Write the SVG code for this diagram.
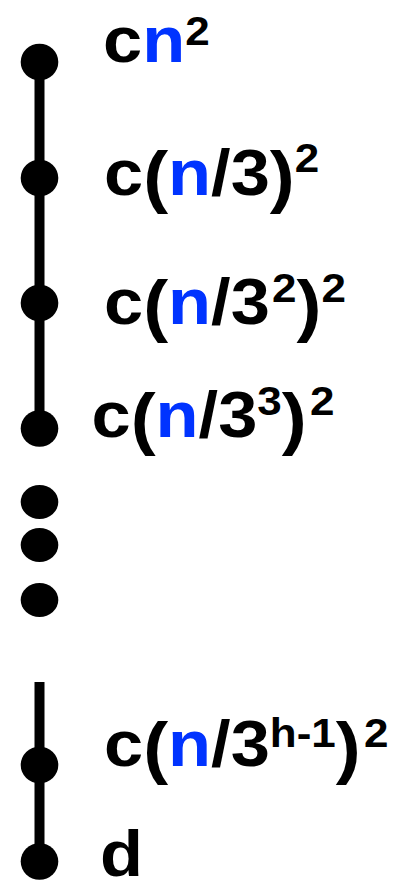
<svg xmlns="http://www.w3.org/2000/svg" width="407" height="882" viewBox="0 0 407 882">
<style>
.lbl{font-family:"Liberation Sans",Arial,sans-serif;font-weight:bold;fill:#000;font-size:64px}
.b{fill:#0033ff}
.p{font-size:68px}
.s{font-size:40px}
.dot{fill:#000}
.edge{stroke:#000;stroke-width:10;fill:none}
</style>
<rect width="407" height="882" fill="#fff"/>
<g id="connectors">
<line class="edge" x1="39.5" y1="62" x2="39.5" y2="428.5"/>
<line class="edge" x1="39.5" y1="682" x2="39.5" y2="861.5"/>
</g>
<g id="node1">
<ellipse class="dot" cx="39.5" cy="62" rx="18.8" ry="18.3"/>
<text class="lbl" transform="translate(103,62) scale(1.1,1)">c<tspan class="b">n</tspan><tspan class="s" dy="-17">2</tspan></text>
</g>
<g id="node2">
<ellipse class="dot" cx="39.5" cy="178" rx="18.8" ry="18.3"/>
<text class="lbl" transform="translate(104,195) scale(1.1,1)">c<tspan class="p" dy="5">(</tspan><tspan class="b" dy="-5">n</tspan>/3<tspan class="p" dy="5">)</tspan><tspan class="s" dy="-28">2</tspan></text>
</g>
<g id="node3">
<ellipse class="dot" cx="39.5" cy="303" rx="18.8" ry="18.3"/>
<text class="lbl" transform="translate(104,324) scale(1.1,1)">c<tspan class="p" dy="5">(</tspan><tspan class="b" dy="-5">n</tspan>/3<tspan class="s" dx="2" dy="-22">2</tspan><tspan class="p" dy="27">)</tspan><tspan class="s" dy="-27">2</tspan></text>
</g>
<g id="node4">
<ellipse class="dot" cx="39.5" cy="428.5" rx="18.8" ry="18.3"/>
<text class="lbl" transform="translate(91.5,437) scale(1.1,1)">c<tspan class="p" dy="5">(</tspan><tspan class="b" dy="-5">n</tspan>/3<tspan class="s" dy="-22">3</tspan><tspan class="p" dy="27">)</tspan><tspan class="s" dx="3" dy="-27">2</tspan></text>
</g>
<g id="ellipsis">
<ellipse class="dot" cx="39.5" cy="502" rx="18.8" ry="17"/>
<ellipse class="dot" cx="39.5" cy="545" rx="18.8" ry="17"/>
<ellipse class="dot" cx="39.5" cy="600" rx="18.8" ry="17"/>
</g>
<g id="node5">
<ellipse class="dot" cx="39.5" cy="765" rx="18.8" ry="18.3"/>
<text class="lbl" transform="translate(104,766) scale(1.1,1)">c<tspan class="p" dy="5">(</tspan><tspan class="b" dy="-5">n</tspan>/3<tspan class="s" dy="-19">h-1</tspan><tspan class="p" dy="24">)</tspan><tspan class="s" dx="3" dy="-24">2</tspan></text>
</g>
<g id="node6">
<ellipse class="dot" cx="39.5" cy="861.5" rx="18.8" ry="18.3"/>
<text class="lbl" transform="translate(100,876) scale(1.1,1)">d</text>
</g>
</svg>
